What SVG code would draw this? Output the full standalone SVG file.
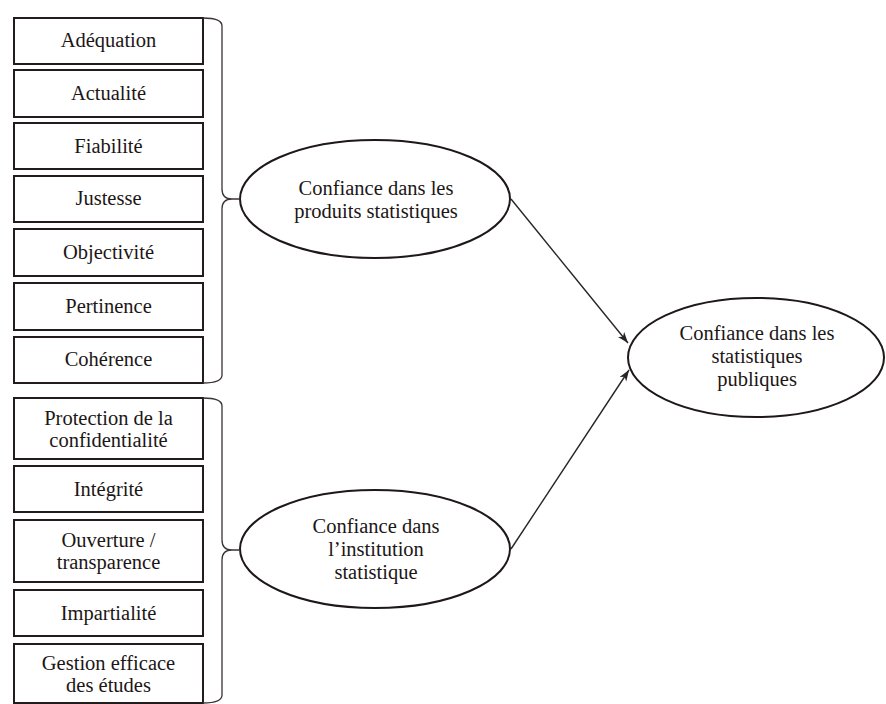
<svg xmlns="http://www.w3.org/2000/svg" width="886" height="704" viewBox="0 0 886 704">
  <defs>
    <style>
      .box { fill: #ffffff; stroke: #231c1c; stroke-width: 2; }
      .oval { fill: #ffffff; stroke: #1e1818; stroke-width: 2; }
      .brace { fill: none; stroke: #3a3434; stroke-width: 1.3; }
      .link { fill: none; stroke: #2a2424; stroke-width: 1.4; }
    </style>
    <marker id="arrow" markerWidth="12" markerHeight="10" refX="11" refY="5" orient="auto" markerUnits="userSpaceOnUse">
      <path d="M0,1 L11,5 L0,9 L3,5 Z" fill="#2a2424"/>
    </marker>
  </defs>
  <rect width="886" height="704" fill="#ffffff"/>

  <g font-family="'Liberation Serif', 'DejaVu Serif', serif" font-size="20.5" fill="#1c1616" text-anchor="middle">
    <!-- quality of statistical products -->
    <g id="adequation"><rect class="box" x="14" y="18" width="189" height="46"/><text x="108.5" y="47">Adéquation</text></g>
    <g id="actualite"><rect class="box" x="14" y="70" width="189" height="47"/><text x="108.5" y="100">Actualité</text></g>
    <g id="fiabilite"><rect class="box" x="14" y="123" width="189" height="46"/><text x="108.5" y="153">Fiabilité</text></g>
    <g id="justesse"><rect class="box" x="14" y="176" width="189" height="46"/><text x="108.5" y="205">Justesse</text></g>
    <g id="objectivite"><rect class="box" x="14" y="229" width="189" height="47"/><text x="108.5" y="259">Objectivité</text></g>
    <g id="pertinence"><rect class="box" x="14" y="283" width="189" height="47"/><text x="108.5" y="313">Pertinence</text></g>
    <g id="coherence"><rect class="box" x="14" y="337" width="189" height="46"/><text x="108.5" y="366">Cohérence</text></g>

    <!-- qualities of the statistical institution -->
    <g id="protection"><rect class="box" x="14" y="398" width="189" height="61"/><text x="108.5" y="425">Protection de la</text><text x="108.5" y="447">confidentialité</text></g>
    <g id="integrite"><rect class="box" x="14" y="466" width="189" height="46"/><text x="108.5" y="496">Intégrité</text></g>
    <g id="ouverture"><rect class="box" x="14" y="520" width="189" height="62"/><text x="108.5" y="547">Ouverture /</text><text x="108.5" y="569">transparence</text></g>
    <g id="impartialite"><rect class="box" x="14" y="590" width="189" height="46"/><text x="108.5" y="620">Impartialité</text></g>
    <g id="gestion"><rect class="box" x="14" y="644" width="189" height="59"/><text x="108.5" y="670">Gestion efficace</text><text x="108.5" y="692">des études</text></g>

    <!-- latent constructs -->
    <g id="confiance-produits"><ellipse class="oval" cx="375" cy="199" rx="135" ry="59"/><text x="376" y="195">Confiance dans les</text><text x="376" y="218">produits statistiques</text></g>
    <g id="confiance-institution"><ellipse class="oval" cx="375" cy="549" rx="135" ry="59"/><text x="376" y="533">Confiance dans</text><text x="376" y="556">l’institution</text><text x="376" y="579">statistique</text></g>
    <g id="confiance-statistiques"><ellipse class="oval" cx="756" cy="357.5" rx="128" ry="59.5"/><text x="757" y="340">Confiance dans les</text><text x="757" y="363">statistiques</text><text x="757" y="386">publiques</text></g>
  </g>

  <!-- braces and arrows -->
  <g id="connectors">
    <path class="brace" d="M203,18 Q222,18 222,26 L222,189 Q222,199 232,199 L240,199 M232,199 Q222,199 222,209 L222,375 Q222,383 203,383"/>
    <path class="brace" d="M203,398 Q222,398 222,406 L222,540 Q222,550 232,550 L240,550 M232,550 Q222,550 222,560 L222,695 Q222,703 203,703"/>
    <line class="link" x1="511" y1="199" x2="628" y2="343" marker-end="url(#arrow)"/>
    <line class="link" x1="511" y1="549" x2="629" y2="370" marker-end="url(#arrow)"/>
  </g>
</svg>
